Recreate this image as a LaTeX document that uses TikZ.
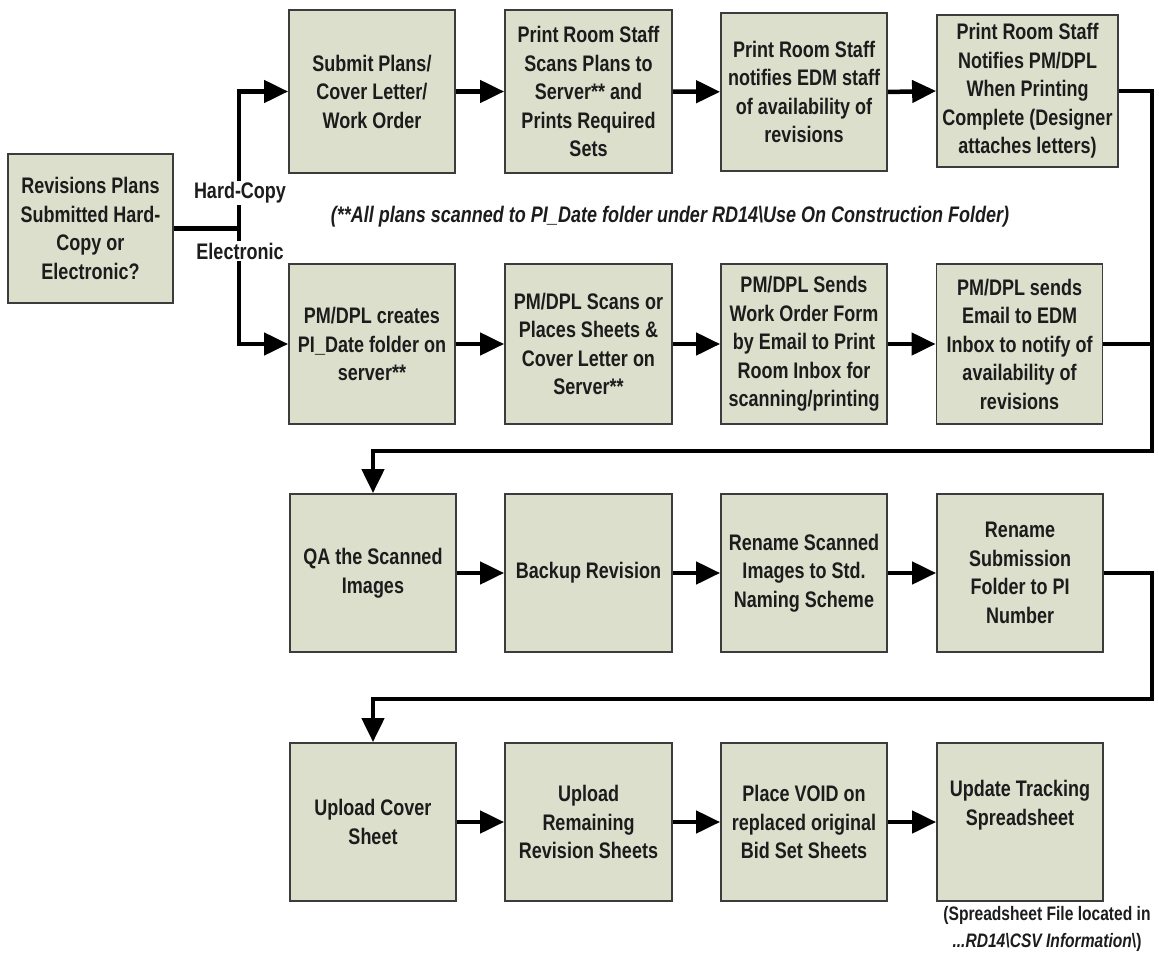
\documentclass[tikz,border=0pt]{standalone}
\usepackage{fontspec}
\setmainfont{Liberation Sans}[FakeStretch=0.8]
\usetikzlibrary{arrows.meta}
\definecolor{boxfill}{RGB}{221,223,205}
\definecolor{boxline}{RGB}{60,60,60}
\definecolor{txt}{RGB}{28,28,28}
\tikzset{
  proc/.style={draw=boxline, line width=1.8pt, fill=boxfill, minimum width=166pt,
    minimum height=158pt, align=center, inner sep=0pt, text=txt,
    font=\fontsize{22.5}{28.5}\selectfont\bfseries},
  conn/.style={line width=4.5pt, draw=black, line join=miter},
  arr/.style={conn, -{Triangle[length=24pt,width=22pt]}},
  lbl/.style={fill=white, inner sep=2pt, text=txt, font=\fontsize{22.5}{28.5}\selectfont\bfseries},
  note/.style={inner sep=0pt, text=txt, align=center, font=\fontsize{22.5}{27}\selectfont\bfseries},
  snote/.style={inner sep=0pt, text=txt, align=center, font=\fontsize{19.5}{27}\selectfont\bfseries}
}
\begin{document}
\begin{tikzpicture}[x=1pt,y=-1pt]
\useasboundingbox (0,0) rectangle (1159,960);
% nodes
\node[proc, minimum width=165pt, minimum height=149pt] (L) at (90.5,228.5)
  {Revisions Plans\\Submitted Hard-\\Copy or\\Electronic?};
\node[proc, minimum height=163pt] (T1) at (372,91.5) {Submit Plans/\\Cover Letter/\\Work Order};
\node[proc, minimum width=167pt, minimum height=163pt] (T2) at (588.5,91.5)
  {Print Room Staff\\Scans Plans to\\Server** and\\Prints Required\\Sets};
\node[proc] (T3) at (804,92) {Print Room Staff\\notifies EDM staff\\of availability of\\revisions};
\node[proc, minimum width=181pt, minimum height=152pt] (T4) at (1027.5,91)
  {Print Room Staff\\Notifies PM/DPL\\When Printing\\Complete (Designer\\attaches letters)};

\node[proc, minimum height=160pt] (R1) at (372,344) {PM/DPL creates\\PI\_Date folder on\\server**};
\node[proc, minimum width=167pt, minimum height=160pt] (R2) at (588.5,344)
  {PM/DPL Scans or\\Places Sheets \&\\Cover Letter on\\Server**};
\node[proc, minimum height=160pt] (R3) at (804,344)
  {PM/DPL Sends\\Work Order Form\\by Email to Print\\Room Inbox for\\scanning/printing};
\node[proc, minimum height=160pt] (R4) at (1019.5,344)
  {PM/DPL sends\\Email to EDM\\Inbox to notify of\\availability of\\revisions};

\node[proc] (Q1) at (373,573) {QA the Scanned\\Images};
\node[proc, minimum width=167pt] (Q2) at (588.5,573) {Backup Revision};
\node[proc] (Q3) at (804,573) {Rename Scanned\\Images to Std.\\Naming Scheme};
\node[proc] (Q4) at (1020,573) {Rename\\Submission\\Folder to PI\\Number};

\node[proc] (U1) at (373,822) {Upload Cover\\Sheet};
\node[proc, minimum width=167pt] (U2) at (588.5,822) {Upload\\Remaining\\Revision Sheets};
\node[proc] (U3) at (804,822) {Place VOID on\\replaced original\\Bid Set Sheets};
\node[proc] (U4) at (1020,822) {Update Tracking\\Spreadsheet\\[10pt]};

% connectors
\coordinate (jm) at (239,228.5);
\coordinate (jt) at (239,91.5);
\coordinate (jb) at (239,344);
\draw[conn] (L.east) -- (jm);
\draw[arr] (jb) -- (jt) -- (T1.west);
\draw[arr] (jt) -- (jb) -- (R1.west);
\node[lbl] (hc) at (240,193) {Hard-Copy};
\node[lbl] (el) at (240,251) {Electronic};

\draw[arr] (T1) -- (T2);
\draw[arr] (T2) -- (T3);
\draw[arr] (T3.east) -- (T4.west);
\draw[arr] (R1) -- (R2);
\draw[arr] (R2) -- (R3);
\draw[arr] (R3) -- (R4);
\draw[arr] (Q1) -- (Q2);
\draw[arr] (Q2) -- (Q3);
\draw[arr] (Q3) -- (Q4);
\draw[arr] (U1) -- (U2);
\draw[arr] (U2) -- (U3);
\draw[arr] (U3) -- (U4);

\coordinate (c1) at (1152,91);
\coordinate (c2) at (1152,451);
\coordinate (c3) at (373,451);
\coordinate (c4) at (1152,344);
\draw[arr] (T4.east) -- (c1) -- (c2) -- (c3) -- (Q1.north);
\draw[conn] (R4.east) -- (c4);
\coordinate (d1) at (1152,573);
\coordinate (d2) at (1152,699);
\coordinate (d3) at (373,699);
\draw[arr] (Q4.east) -- (d1) -- (d2) -- (d3) -- (U1.north);

% notes
\node[note] (nt) at (670,217)
  {\itshape (**All plans scanned to PI\_Date folder under RD14\textbackslash Use On Construction Folder)};
\node[snote] (sn) at (1047,929)
  {(Spreadsheet File located in\\\textit{...RD14\textbackslash CSV Information}\textbackslash)};
\end{tikzpicture}
\end{document}
